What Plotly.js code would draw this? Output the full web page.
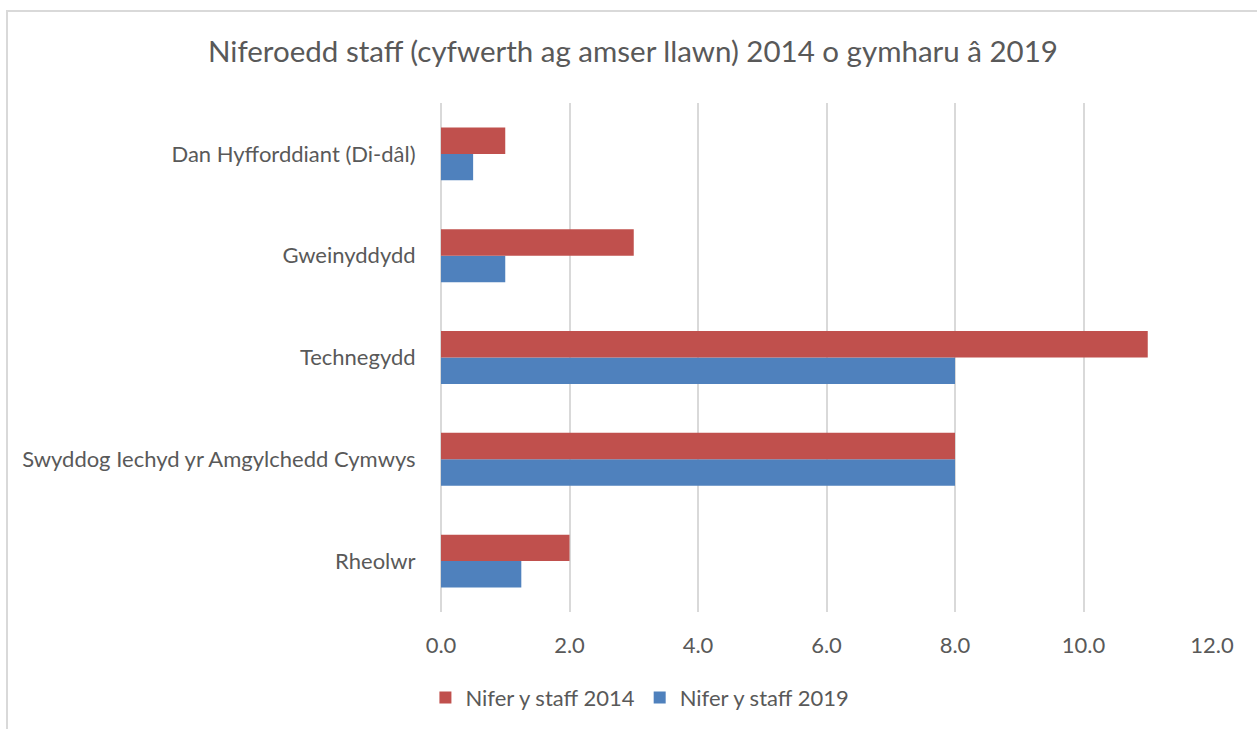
<!DOCTYPE html>
<html>
<head>
<meta charset="utf-8">
<script src="https://cdn.plot.ly/plotly-3.0.1.min.js"></script>
<style>
html,body{margin:0;padding:0;overflow:hidden;background:#fff;}
#frame{position:absolute;left:6px;top:10px;width:1300px;height:800px;border:2px solid #d9d9d9;box-sizing:border-box;pointer-events:none;}
#chart{position:absolute;left:0;top:0;width:1257px;height:729px;}
</style>
</head>
<body>
<div id="frame"></div>
<div id="chart"></div>
<script>
var categories = ["Rheolwr", "Swyddog Iechyd yr Amgylchedd Cymwys", "Technegydd", "Gweinyddydd", "Dan Hyfforddiant (Di-dâl)"];
var staff2014 = [2, 8, 11, 3, 1];
var staff2019 = [1.25, 8, 8, 1, 0.5];
var seriesNames = ["Nifer y staff 2014", "Nifer y staff 2019"];
var xTicks = [0, 2, 4, 6, 8, 10, 12];
var xTickLabels = ["0.0", "2.0", "4.0", "6.0", "8.0", "10.0", "12.0"];

var FONT = "Lato, 'Noto Sans', sans-serif";
var GREY = "#595959";

var traces = [
  {
    type: "bar", orientation: "h", name: seriesNames[1],
    y: categories, x: staff2019,
    marker: {color: "#4F81BD"}, legendrank: 2, hoverinfo: "x+y"
  },
  {
    type: "bar", orientation: "h", name: seriesNames[0],
    y: categories, x: staff2014,
    marker: {color: "#C0504D"}, legendrank: 1, hoverinfo: "x+y"
  }
];

var layout = {
  width: 1257, height: 729,
  paper_bgcolor: "rgba(0,0,0,0)", plot_bgcolor: "rgba(0,0,0,0)",
  margin: {l: 441, r: 45, t: 103, b: 116},
  barmode: "group", bargap: 0.48, bargroupgap: 0,
  font: {family: FONT, color: GREY},
  title: {
    text: "Niferoedd staff (cyfwerth ag amser llawn) 2014 o gymharu â 2019",
    font: {family: FONT, size: 29.5, color: GREY},
    x: 633 / 1257, xref: "container", xanchor: "center",
    y: 50, yref: "container", yanchor: "middle"
  },
  xaxis: {
    range: [0, 12], tickvals: xTicks, ticktext: xTickLabels,
    showgrid: true, gridcolor: "#d9d9d9", gridwidth: 2,
    zeroline: true, zerolinecolor: "#d9d9d9", zerolinewidth: 2,
    showline: false, ticks: "outside", ticklen: 14, tickcolor: "rgba(0,0,0,0)",
    tickfont: {family: FONT, size: 22, color: GREY}, fixedrange: true
  },
  yaxis: {
    type: "category", categoryorder: "array", categoryarray: categories,
    showgrid: false, zeroline: false, showline: false,
    ticks: "outside", ticklen: 20, tickcolor: "rgba(0,0,0,0)",
    tickfont: {family: FONT, size: 22, color: GREY}, fixedrange: true
  },
  showlegend: true,
  legend: {
    orientation: "h", x: 0.258, xanchor: "center", y: -0.166, yanchor: "middle",
    font: {family: FONT, size: 22, color: GREY}, traceorder: "normal",
    itemwidth: 30
  }
};

Plotly.newPlot("chart", traces, layout, {displayModeBar: false, staticPlot: true});
</script>
</body>
</html>
